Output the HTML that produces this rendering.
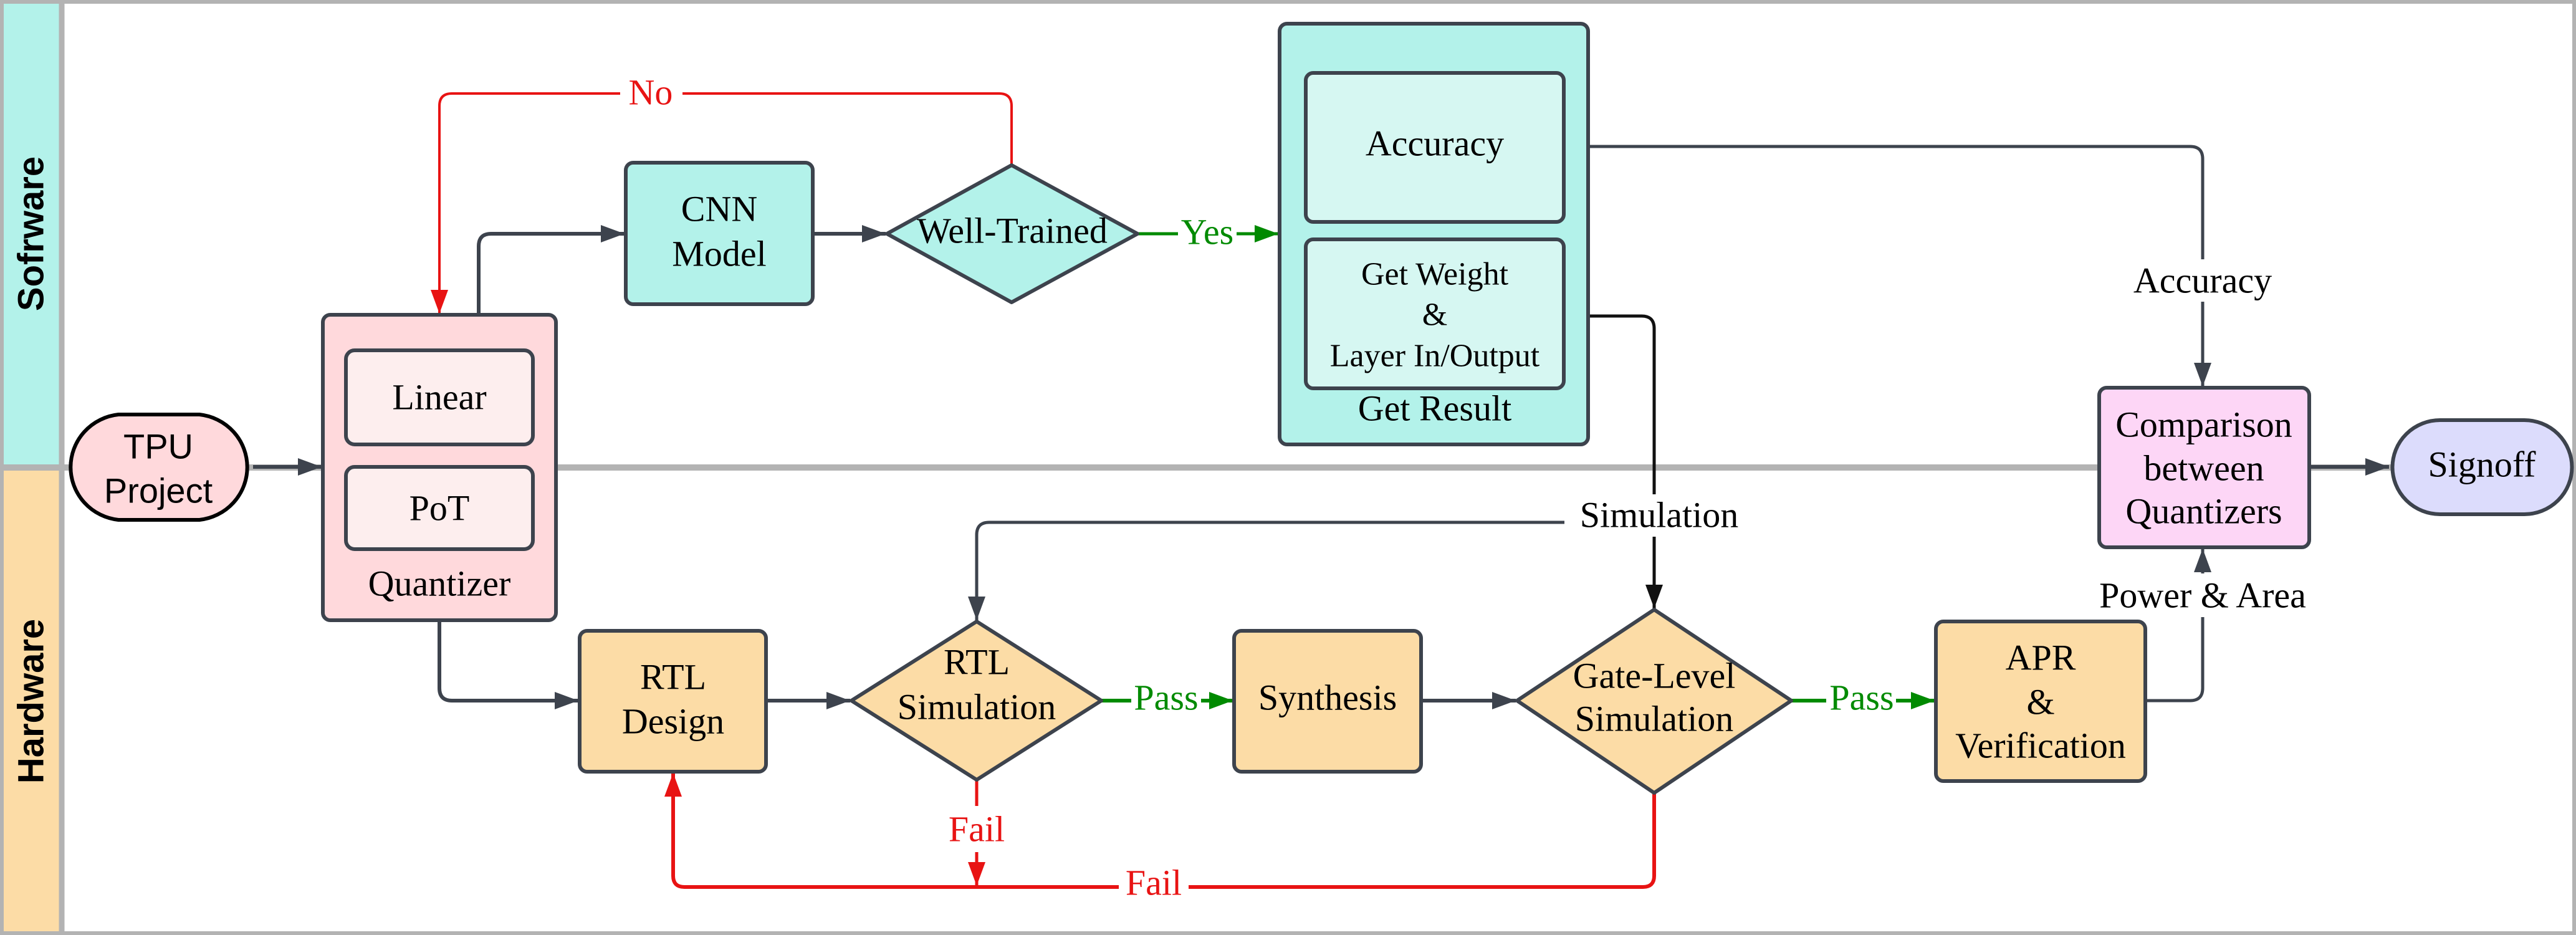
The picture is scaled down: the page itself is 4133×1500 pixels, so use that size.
<!DOCTYPE html>
<html><head><meta charset="utf-8"><style>html,body{margin:0;padding:0;background:#fff}svg{display:block}</style></head>
<body>
<svg xmlns="http://www.w3.org/2000/svg" width="4133" height="1500" viewBox="0 0 4133 1500">
<defs>
<marker id="ag" markerUnits="userSpaceOnUse" markerWidth="40" markerHeight="30" refX="38" refY="14" orient="auto"><path d="M0,0 L38,14 L0,28 Z" fill="#3d434d"/></marker>
<marker id="ak" markerUnits="userSpaceOnUse" markerWidth="40" markerHeight="30" refX="38" refY="14" orient="auto"><path d="M0,0 L38,14 L0,28 Z" fill="#111"/></marker>
<marker id="ar" markerUnits="userSpaceOnUse" markerWidth="40" markerHeight="30" refX="38" refY="14" orient="auto"><path d="M0,0 L38,14 L0,28 Z" fill="#e81313"/></marker>
<marker id="agr" markerUnits="userSpaceOnUse" markerWidth="40" markerHeight="30" refX="38" refY="14" orient="auto"><path d="M0,0 L38,14 L0,28 Z" fill="#008a00"/></marker>
</defs>
<rect x="0" y="0" width="99" height="750" fill="#b3f2ea"/>
<rect x="0" y="750" width="99" height="750" fill="#fcdca6"/>
<rect x="3" y="3" width="4127" height="1494" fill="none" stroke="#b3b3b3" stroke-width="6"/>
<line x1="99" y1="0" x2="99" y2="1500" stroke="#b3b3b3" stroke-width="9"/>
<line x1="0" y1="750" x2="4133" y2="750" stroke="#b3b3b3" stroke-width="10"/>
<text transform="translate(50,375) rotate(-90)" font-family="Liberation Sans, sans-serif" font-weight="bold" font-size="58" text-anchor="middle" dominant-baseline="central">Sofrware</text>
<text transform="translate(50,1125) rotate(-90)" font-family="Liberation Sans, sans-serif" font-weight="bold" font-size="58" text-anchor="middle" dominant-baseline="central">Hardware</text>

<g fill="none" stroke-width="6" stroke-linejoin="round">
<path d="M406,749 H516" stroke="#3d434d" marker-end="url(#ag)"/>
<path d="M768,505 V395 Q768,375 788,375 H1002" stroke="#3d434d" marker-end="url(#ag)"/>
<path d="M1304,375 H1421" stroke="#3d434d" marker-end="url(#ag)"/>
<path d="M1623,265 V170 Q1623,150 1603,150 H725 Q705,150 705,170 V503" stroke="#e81313" stroke-width="4" marker-end="url(#ar)"/>
<path d="M1825,375 H2051" stroke="#008a00" stroke-width="5" marker-end="url(#agr)"/>
<path d="M2548,235 H3514 Q3534,235 3534,255 V620" stroke="#3d434d" stroke-width="5" marker-end="url(#ag)"/>
<path d="M2548,507 H2634 Q2654,507 2654,527 V976" stroke="#111" stroke-width="5" marker-end="url(#ak)"/>
<path d="M2654,838 H1587 Q1567,838 1567,858 V995" stroke="#3d434d" stroke-width="5" marker-end="url(#ag)"/>
<path d="M705,995 V1104 Q705,1124 725,1124 H928" stroke="#3d434d" marker-end="url(#ag)"/>
<path d="M1229,1124 H1364" stroke="#3d434d" marker-end="url(#ag)"/>
<path d="M1767,1124 H1978" stroke="#008a00" stroke-width="6" marker-end="url(#agr)"/>
<path d="M2280,1124 H2432" stroke="#3d434d" marker-end="url(#ag)"/>
<path d="M2874,1124 H3104" stroke="#008a00" stroke-width="6" marker-end="url(#agr)"/>
<path d="M3442,1124 H3514 Q3534,1124 3534,1104 V880" stroke="#3d434d" stroke-width="5" marker-end="url(#ag)"/>
<path d="M3705,749 H3833" stroke="#3d434d" marker-end="url(#ag)"/>
<path d="M1567,1251 V1421" stroke="#e81313" stroke-width="5" marker-end="url(#ar)"/>
<path d="M2654,1272 V1405 Q2654,1423 2636,1423 H1098 Q1080,1423 1080,1405 V1240" stroke="#e81313" stroke-width="6" marker-end="url(#ar)"/>
</g>

<g stroke="#3d434d" stroke-width="6">
<path d="M190,665 H320 A86,85 0 0 1 320,834 H190 A86,85 0 0 1 190,665 Z" fill="#ffd9dc" stroke="#000"/>
<rect x="518" y="505" width="374" height="490" rx="12" fill="#ffd9dc"/>
<rect x="555" y="562" width="300" height="151" rx="14" fill="#fdeeee"/>
<rect x="555" y="749" width="300" height="132" rx="14" fill="#fdeeee"/>
<rect x="1004" y="261" width="300" height="227" rx="12" fill="#b3f2ea"/>
<path d="M1623,265 L1825,375 L1623,485 L1423,375 Z" fill="#b3f2ea" stroke-linejoin="round"/>
<rect x="2053" y="38" width="495" height="675" rx="12" fill="#b3f2ea"/>
<rect x="2095" y="117" width="414" height="239" rx="12" fill="#d6f7f2"/>
<rect x="2095" y="384" width="414" height="239" rx="12" fill="#d6f7f2"/>
<rect x="930" y="1012" width="299" height="226" rx="12" fill="#fcdca6"/>
<path d="M1567,997 L1767,1124 L1567,1251 L1366,1124 Z" fill="#fcdca6" stroke-linejoin="round"/>
<rect x="1980" y="1012" width="300" height="226" rx="12" fill="#fcdca6"/>
<path d="M2654,978 L2874,1124 L2654,1272 L2434,1124 Z" fill="#fcdca6" stroke-linejoin="round"/>
<rect x="3106" y="997" width="336" height="256" rx="12" fill="#fcdca6"/>
<rect x="3368" y="622" width="337" height="256" rx="12" fill="#fdd6f6"/>
<path d="M3915,674 H4050 A76,75 0 0 1 4050,825 H3915 A76,75 0 0 1 3915,674 Z" fill="#dcdcfc"/>
</g>

<g fill="#fff">
<rect x="995" y="118" width="100" height="64"/>
<rect x="1890" y="343" width="94" height="64"/>
<rect x="3390" y="416" width="290" height="68"/>
<rect x="2510" y="793" width="305" height="68"/>
<rect x="3355" y="920" width="360" height="70"/>
<rect x="1815" y="1088" width="112" height="66"/>
<rect x="2930" y="1088" width="112" height="66"/>
<rect x="1515" y="1293" width="105" height="74"/>
<rect x="1795" y="1383" width="112" height="68"/>
</g>

<g font-family="Liberation Serif, serif" font-size="58" text-anchor="middle" dominant-baseline="central" fill="#000">
<text x="254" y="716" font-family="Liberation Sans, sans-serif" font-size="56">TPU</text>
<text x="254" y="787" font-family="Liberation Sans, sans-serif" font-size="56">Project</text>
<text x="705" y="637">Linear</text>
<text x="705" y="815">PoT</text>
<text x="705" y="936">Quantizer</text>
<text x="1154" y="335">CNN</text>
<text x="1154" y="407">Model</text>
<text x="1624" y="370">Well-Trained</text>
<text x="2302" y="230">Accuracy</text>
<text x="2302" y="440" font-size="52">Get Weight</text>
<text x="2302" y="505" font-size="52">&amp;</text>
<text x="2302" y="571" font-size="52">Layer In/Output</text>
<text x="2302" y="655">Get Result</text>
<text x="3534" y="450">Accuracy</text>
<text x="2662" y="826">Simulation</text>
<text x="3534" y="955">Power &amp; Area</text>
<text x="1080" y="1086">RTL</text>
<text x="1080" y="1157">Design</text>
<text x="1567" y="1062">RTL</text>
<text x="1567" y="1134">Simulation</text>
<text x="2130" y="1119">Synthesis</text>
<text x="2654" y="1084">Gate-Level</text>
<text x="2654" y="1153">Simulation</text>
<text x="3274" y="1055">APR</text>
<text x="3274" y="1126">&amp;</text>
<text x="3274" y="1196">Verification</text>
<text x="3536" y="681">Comparison</text>
<text x="3536" y="751">between</text>
<text x="3536" y="820">Quantizers</text>
<text x="3982" y="745">Signoff</text>
<text x="1044" y="148" fill="#e81313">No</text>
<text x="1937" y="372" fill="#008a00">Yes</text>
<text x="1871" y="1119" fill="#008a00">Pass</text>
<text x="2987" y="1119" fill="#008a00">Pass</text>
<text x="1567" y="1330" fill="#e81313">Fail</text>
<text x="1851" y="1416" fill="#e81313">Fail</text>
</g>
</svg>
</body></html>
